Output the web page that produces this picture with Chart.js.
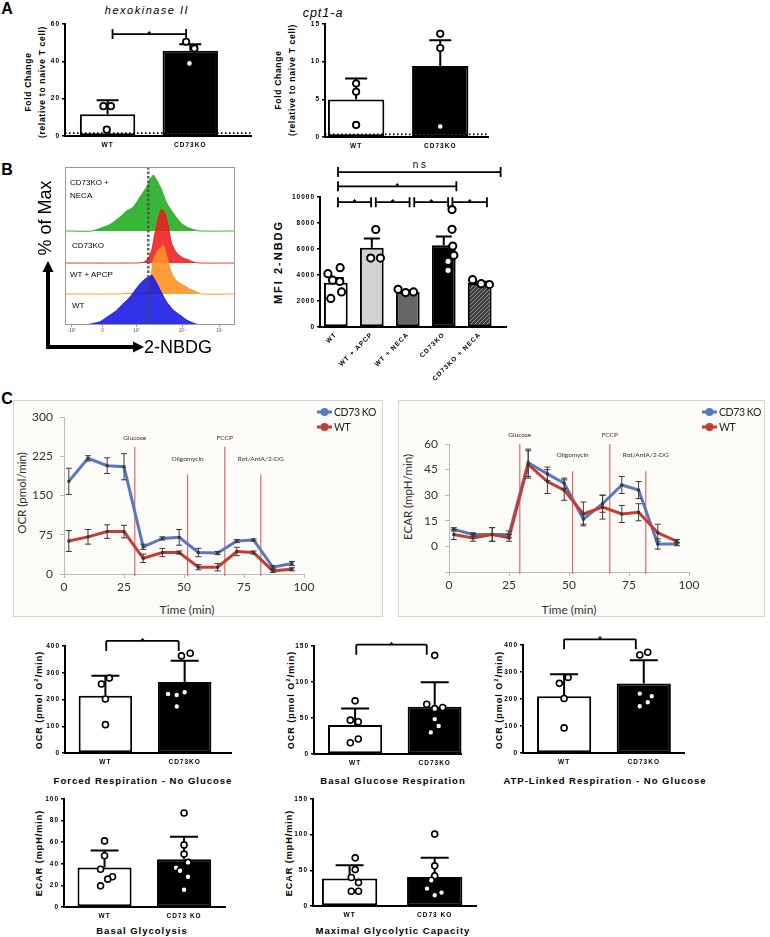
<!DOCTYPE html>
<html lang="en">
<head>
<meta charset="utf-8">
<title>CD73KO metabolism</title>
<script src="https://cdn.jsdelivr.net/npm/chart.js@4.4.1/dist/chart.umd.min.js"></script>
<style>
  html, body { margin: 0; padding: 0; background: #fff; }
  body { position: relative; width: 770px; height: 937px; overflow: hidden; font-family: 'Liberation Sans', Arial, sans-serif; }
  canvas { position: absolute; }
  .t { position: absolute; white-space: nowrap; color: #000; line-height: 1.15; text-align: center; }
  .box { position: absolute; background: #fdfbf7; border: 1px solid #d9d5cd; }
  sup { font-size: 65%; }
</style>
</head>
<body>
<div class="box" style="left:13px;top:400px;width:368px;height:215px"></div>
<div class="box" style="left:398px;top:400px;width:365px;height:215px"></div>
<script>
// 1. DADOS

// A - hexokinase II
const hk2Labels = ['WT', 'CD73KO'];
const hk2Mean = [11.6, 45.7];
const hk2Sd = [7.6, 3.4];
const hk2Pts = [[16, 16, 3.4], [50.5, 46.9, 38.9]];
const hk2Jit = [[-0.05, 0.04, -0.01], [-0.05, 0.05, -0.01]];
const hk2Sig = [[0.06, 0.95, 54.6, '*']];
const hk2Ref = 1.5;

// A - cpt1-a
const cptLabels = ['WT', 'CD73KO'];
const cptMean = [4.98, 9.43];
const cptSd = [2.8, 3.4];
const cptPts = [[7.1, 6.0, 1.6], [13.7, 11.8, 1.4]];
const cptJit = [[0, 0, 0], [0, 0, 0]];
const cptRef = 0.35;

// B - histogramas 2-NBDG
const histBase = [0, 31, 62, 94];
const histWtX = [0, 11.8, 16.2, 20.6, 23.5, 26.5, 29.5, 32.4, 35.3, 38.2, 42.2, 45.1, 48.0, 49.5, 51.0, 53.9, 56.9, 59.8, 63.7, 67.6, 71.6, 75.5, 79.4, 100];
const histWtH = [0, 0, 1.5, 3.3, 6.5, 10, 13.5, 18.3, 23, 28, 37, 43, 47, 48, 50, 42, 32, 23, 15, 10, 5, 2, 0, 0];
const histApcpX = [0, 30, 40, 48.0, 50.0, 52.0, 54.9, 56.5, 57.8, 59.8, 62.7, 65.7, 69.6, 73.5, 77.5, 80.4, 100];
const histApcpH = [0, 0, 0.8, 1.5, 11, 34, 44, 46, 49, 38, 21, 13, 9, 5, 2, 0, 0];
const histKoX = [0, 40, 46.1, 49.0, 51.0, 52.9, 54.9, 56.9, 58.8, 60.8, 62.7, 65.7, 69.6, 72.5, 75.5, 79.4, 100];
const histKoH = [0, 0, 0.7, 5, 13, 30, 45, 54, 50, 37, 20, 10, 5, 3.3, 1, 0, 0];
const histNecaX = [0, 15.7, 20.6, 26.5, 32.4, 36.3, 40.2, 44.1, 48.0, 50.0, 51.0, 52.0, 53.9, 56.9, 59.8, 63.7, 67.6, 71.6, 76.5, 79.4, 100];
const histNecaH = [0, 0, 2.7, 6.5, 14, 20, 24, 34, 44, 52, 54, 56, 51, 41, 28, 18, 9, 4, 1, 0, 0];
const histTickPos = [4, 22, 42, 69, 91];
const histTickLbl = ['-10³', '0', '10³', '10⁴', '10⁵'];
const histGate = 49;

// B - MFI 2-NBDG
const mfiLabels = ['WT', 'WT + APCP', 'WT + NECA', 'CD73KO', 'CD73KO + NECA'];
const mfiMean = [3400, 6100, 2700, 6280, 3380];
const mfiSem = [370, 700, 100, 690, 100];
const mfiPts = [[4100, 4560, 3600, 3500, 2700, 2200], [7500, 5300, 5300], [2900, 2650, 2700], [9030, 7510, 6230, 5510, 5050, 4360], [3640, 3330, 3260]];
const mfiJit = [[-0.22, 0.12, -0.09, 0.11, 0.16, -0.14], [0.11, -0.03, 0.24], [-0.27, -0.06, 0.16], [0.23, 0.23, 0.25, 0.28, 0.12, 0.12], [-0.2, 0.04, 0.27]];
const mfiSig = [[0.06, 0.98, 9600, '*'], [1.11, 2.05, 9600, '*'], [2.18, 3.12, 9600, '*'], [3.24, 4.2, 9600, '*'], [0.06, 3.35, 10820, '*'], [0.06, 4.58, 11920, 'n s']];

// C - Seahorse
const seaTime = [2, 10, 18, 25, 33, 41, 48, 56, 64, 72, 79, 87, 95];
const ocrKo = [177, 221, 207, 205, 52, 68, 70, 41, 40, 63, 65, 13, 20];
const ocrKoErr = [25, 5, 15, 25, 5, 3, 15, 8, 3, 3, 2, 3, 4];
const ocrWt = [63, 71, 81, 81, 30, 41, 41, 13, 13, 43, 41, 6, 9];
const ocrWtErr = [20, 14, 13, 12, 8, 8, 3, 5, 7, 8, 3, 3, 3];
const ecarKo = [10, 7, 7, 7, 49, 42.5, 37, 16, 25, 36, 33, 1.4, 1.4];
const ecarKoErr = [1, 1, 4, 2, 8, 4, 3, 3, 5, 5, 5, 3, 1];
const ecarWt = [7, 5, 7, 5, 48, 38, 33, 19, 23, 19, 20, 8, 3];
const ecarWtErr = [3, 2, 4, 2, 8, 7, 6, 7, 7, 5, 5, 5, 1];
const injNames = ['Glucose', 'Oligomycin', 'FCCP', 'Rot/AntA/2-DG'];
const injTime = [29.5, 51.5, 67, 82];
const ocrInjTop = [243, 190, 243, 190];
const ecarInjTop = [60, 44, 60, 44];

// C - respiração
const frLabels = ['WT', 'CD73KO'];
const frMean = [214, 265];
const frSd = [75, 80];
const frPts = [[280, 258, 202, 106], [363, 373, 221, 217, 227, 174]];
const frJit = [[0.05, -0.05, 0, 0], [-0.04, 0.07, -0.21, -0.1, 0, -0.1]];
const frSig = [[0.01, 0.925, 419, '*']];

const bgrMean = [40.2, 65.5];
const bgrSd = [23, 34];
const bgrPts = [[73.8, 47, 44.8, 20.8, 15.7], [137, 69, 63, 64.6, 48.5, 38.8, 30]];
const bgrJit = [[0, -0.06, 0.04, 0.04, -0.06], [0, -0.1, 0, 0.1, 0, 0.05, -0.05]];
const bgrSig = [[0.015, 0.9, 151.8, '*']];

const atpMean = [210.5, 257.6];
const atpSd = [81, 86];
const atpPts = [[280, 258, 202, 93], [363, 373, 220, 210, 188, 173]];
const atpJit = [[0.05, -0.06, 0, 0], [-0.05, 0.05, -0.05, 0.1, 0.05, -0.05]];
const atpSig = [[0, 0.9, 421, '*']];

// D - glicólise
const glyLabels = ['WT', 'CD73 KO'];
const glyMean = [36.6, 44.1];
const glySd = [15.6, 21];
const glyPts = [[61.2, 47.5, 35, 28, 25.8, 19.6], [87, 57.5, 49, 41.3, 36.3, 33.5, 28, 16]];
const glyJit = [[0, 0, -0.05, 0.1, 0.04, -0.05], [0, 0, 0, 0.05, -0.1, -0.05, 0.05, 0]];

const mgcMean = [38.4, 40.8];
const mgcSd = [18.8, 27];
const mgcPts = [[67.5, 51, 40, 32.8, 20.6, 20.6], [100.8, 56.3, 42.2, 36, 24.4, 18.8, 15]];
const mgcJit = [[0.066, 0.066, 0.02, 0.105, 0.02, 0.105], [0, 0, 0, -0.04, -0.09, 0.08, 0]];

// 2. FUNÇÕES AUXILIARES
const GP = "'Liberation Sans', Arial, sans-serif";
const XL = "Lato, 'Open Sans', sans-serif";
const KO_BLUE = 'rgb(88,120,194)';
const WT_RED = 'rgb(200,60,48)';
Chart.defaults.animation = false;
Chart.defaults.responsive = false;
Chart.defaults.plugins.legend.display = false;
Chart.defaults.plugins.tooltip.enabled = false;
Chart.defaults.font.family = GP;
Chart.defaults.color = '#000';

function txt(html, x, y, css, rot, left) {
    const d = document.createElement('div');
    d.className = 't';
    d.innerHTML = html;
    d.style.left = x + 'px';
    d.style.top = y + 'px';
    d.style.transform = (left ? 'translate(0,-50%)' : 'translate(-50%,-50%)') + (rot ? ' rotate(-90deg)' : '');
    d.style.cssText += css;
    document.body.appendChild(d);
}

function canvasAt(l, t, w, h) {
    const c = document.createElement('canvas');
    c.width = Math.round(w); c.height = Math.round(h);
    c.style.left = Math.round(l) + 'px'; c.style.top = Math.round(t) + 'px';
    c.style.width = Math.round(w) + 'px'; c.style.height = Math.round(h) + 'px';
    document.body.appendChild(c);
    return c;
}

function hatch() {
    const p = document.createElement('canvas');
    p.width = p.height = 4;
    const g = p.getContext('2d');
    g.fillStyle = '#3a3a3a'; g.fillRect(0, 0, 4, 4);
    g.strokeStyle = '#9a9a9a'; g.lineWidth = 1;
    g.beginPath(); g.moveTo(-1, 5); g.lineTo(5, -1); g.stroke();
    return g.createPattern(p, 'repeat');
}

// gráfico de barras estilo GraphPad (barra + pontos + DP + colchetes)
function barPlot(o) {
    const a = o.area, yw = o.yw || 24, xh = o.xh || 16, pt = o.pt || 10, pr = o.pr || 4;
    const cv = canvasAt(a.l - yw, a.t - pt, a.r - a.l + yw + pr, a.b - a.t + pt + xh);
    const dots = [];
    o.pts.forEach((arr, i) => arr.forEach((v, k) => dots.push({ x: i + o.jit[i][k], y: v })));
    new Chart(cv, {
        type: 'bar',
        data: { datasets: [
            { type: 'scatter', data: dots, order: 0, clip: false, pointRadius: o.r || 3,
              pointBorderWidth: o.rw || 1.6, pointBackgroundColor: '#fff', pointBorderColor: '#000' },
            { type: 'bar', data: o.mean.map((v, i) => ({ x: i, y: v })), order: 1,
              backgroundColor: o.fill, borderColor: '#000', borderWidth: 2, borderSkipped: false,
              barPercentage: o.bw, categoryPercentage: 1 }
        ]},
        options: {
            layout: { padding: { top: pt, right: pr, left: 0, bottom: 0 } },
            scales: {
                x: { type: 'linear', min: o.xmin, max: o.xmax, offset: false,
                     afterBuildTicks: s => { s.ticks = o.labels.map((_, i) => ({ value: i })); },
                     afterFit: s => { s.height = xh; },
                     grid: { display: true, drawOnChartArea: false, drawTicks: false, offset: false },
                     border: { color: '#000', width: 2 },
                     ticks: { autoSkip: false, callback: v => o.labels[v], minRotation: o.rot || 0, maxRotation: o.rot || 0,
                              padding: o.xpad || 5, font: { size: 6.5, weight: 'bold' }, color: '#000' } },
                y: { min: 0, max: o.ymax, afterFit: s => { s.width = yw; },
                     grid: { drawOnChartArea: false, tickLength: 3, color: '#000', lineWidth: 1.5 },
                     border: { color: '#000', width: 2 },
                     ticks: { stepSize: o.step, padding: 2, callback: v => String(v), font: { size: 6.5, weight: 'bold' }, color: '#000' } }
            }
        },
        plugins: [{
            id: 'gp',
            beforeDraw(c) { c.ctx.letterSpacing = '1px'; },
            beforeDatasetDraw(c, args) {
                if (args.index !== 0) return;
                const { ctx, scales: { x, y } } = c;
                ctx.save();
                ctx.strokeStyle = '#000'; ctx.lineWidth = 2;
                o.mean.forEach((m, i) => {
                    const px = x.getPixelForValue(i), y0 = y.getPixelForValue(m), y1 = y.getPixelForValue(m + o.sd[i]);
                    ctx.beginPath();
                    ctx.moveTo(px, y0); ctx.lineTo(px, y1);
                    ctx.moveTo(px - o.cap, y1); ctx.lineTo(px + o.cap, y1);
                    ctx.stroke();
                });
                ctx.restore();
            },
            afterDraw(c) {
                const { ctx, chartArea: ca, scales: { x, y } } = c;
                ctx.save();
                ctx.strokeStyle = '#000'; ctx.fillStyle = '#000'; ctx.lineWidth = 1.8;
                if (o.ref != null) {
                    ctx.setLineDash([1.5, 2.5]);
                    ctx.beginPath();
                    ctx.moveTo(ca.left, y.getPixelForValue(o.ref)); ctx.lineTo(ca.right, y.getPixelForValue(o.ref));
                    ctx.stroke();
                    ctx.setLineDash([]);
                }
                (o.sig || []).forEach(([p, q, v, s]) => {
                    const x1 = x.getPixelForValue(p), x2 = x.getPixelForValue(q), yy = y.getPixelForValue(v);
                    ctx.beginPath();
                    ctx.moveTo(x1, yy); ctx.lineTo(x2, yy);
                    if (o.sigStyle === 'down') {
                        ctx.moveTo(x1, yy); ctx.lineTo(x1, yy + 10);
                        ctx.moveTo(x2, yy); ctx.lineTo(x2, yy + 10);
                    } else {
                        ctx.moveTo(x1, yy - 5); ctx.lineTo(x1, yy + 5);
                        ctx.moveTo(x2, yy - 5); ctx.lineTo(x2, yy + 5);
                    }
                    ctx.stroke();
                    ctx.textAlign = 'center';
                    ctx.letterSpacing = '0px';
                    if (s === '*') {
                        ctx.font = 'bold 9px ' + GP; ctx.textBaseline = 'alphabetic';
                        ctx.fillText(s, (x1 + x2) / 2, yy + 3);
                    } else {
                        ctx.font = '10px ' + GP; ctx.textBaseline = 'bottom';
                        ctx.fillText(s, (x1 + x2) / 2, yy - 2);
                    }
                });
                ctx.restore();
            }
        }]
    });
}

// gráfico de linha Seahorse (OCR / ECAR)
function seaPlot(o) {
    const cv = canvasAt(o.l, o.t, o.w, o.h);
    const serie = (ys, color) => ({
        data: seaTime.map((t, i) => ({ x: t, y: ys[i] })),
        borderColor: color, borderWidth: 3, pointStyle: 'rect', pointRadius: 2,
        pointBackgroundColor: '#333', pointBorderWidth: 0, tension: 0
    });
    new Chart(cv, {
        type: 'line',
        data: { datasets: [serie(o.wt, WT_RED), serie(o.ko, KO_BLUE)] },
        options: {
            layout: { padding: { top: o.pt, right: o.pr, bottom: o.pb, left: 0 } },
            scales: {
                x: { type: 'linear', min: 0, max: 100, afterFit: s => { s.height = 20; },
                     ticks: { stepSize: 25, padding: 2, font: { family: XL, size: 12 }, color: '#333' },
                     grid: { drawOnChartArea: false, tickLength: 4, color: '#bbb' },
                     border: { color: '#bbb', width: 1 } },
                y: { min: o.ymin, max: o.ymax, afterFit: s => { s.width = o.yw; },
                     ticks: { stepSize: o.step, padding: 7, callback: v => v < 0 ? '' : v, font: { family: XL, size: 12 }, color: '#333' },
                     grid: { drawOnChartArea: false, tickLength: 4, color: '#bbb' },
                     border: { color: '#bbb', width: 1 } }
            }
        },
        plugins: [{
            id: 'sea',
            beforeDatasetsDraw(c) {
                const { ctx, chartArea: ca, scales: { x, y } } = c;
                ctx.save();
                ctx.strokeStyle = 'rgba(214,92,92,0.9)'; ctx.lineWidth = 1.2;
                ctx.fillStyle = '#333'; ctx.font = '6.5px ' + XL; ctx.textAlign = 'center';
                injTime.forEach((t, i) => {
                    const px = x.getPixelForValue(t), top = y.getPixelForValue(o.inj[i]);
                    ctx.beginPath(); ctx.moveTo(px, top); ctx.lineTo(px, ca.bottom + 2); ctx.stroke();
                    ctx.fillText(injNames[i], px, top - (i % 2 ? 14 : 7));
                });
                ctx.restore();
            },
            afterDatasetsDraw(c) {
                const { ctx, scales: { x, y } } = c;
                ctx.save();
                ctx.strokeStyle = '#3a3a3a'; ctx.lineWidth = 1;
                [[o.ko, o.koErr], [o.wt, o.wtErr]].forEach(([ys, es]) => {
                    seaTime.forEach((t, i) => {
                        const px = x.getPixelForValue(t), y1 = y.getPixelForValue(ys[i] + es[i]), y2 = y.getPixelForValue(ys[i] - es[i]);
                        ctx.beginPath();
                        ctx.moveTo(px, y1); ctx.lineTo(px, y2);
                        ctx.moveTo(px - 3, y1); ctx.lineTo(px + 3, y1);
                        ctx.moveTo(px - 3, y2); ctx.lineTo(px + 3, y2);
                        ctx.stroke();
                    });
                });
                ctx.restore();
            },
            afterDraw(c) {
                const ctx = c.ctx;
                ctx.save();
                ctx.font = '10.5px ' + XL; ctx.textBaseline = 'middle';
                ctx.letterSpacing = '-0.4px';
                [['CD73 KO', KO_BLUE, 12], ['WT', WT_RED, 27]].forEach(([name, col, ly]) => {
                    ctx.strokeStyle = col; ctx.fillStyle = col; ctx.lineWidth = 3;
                    ctx.beginPath(); ctx.moveTo(304, ly); ctx.lineTo(319, ly); ctx.stroke();
                    ctx.beginPath(); ctx.arc(311.5, ly, 4, 0, Math.PI * 2); ctx.fill();
                    ctx.fillStyle = '#222';
                    ctx.fillText(name, 321, ly + 0.5);
                });
                ctx.restore();
            }
        }]
    });
}

// 3. PAINEL A
const B16 = 'font-weight:bold;font-size:16px;';
txt('A', 7, 9, B16);
txt('B', 7, 170, B16);
txt('C', 7, 399, B16);

const YT = 'font-weight:bold;font-size:8.5px;letter-spacing:0.7px;line-height:14px;';
txt('hexokinase II', 147, 10, 'font-style:italic;font-size:11px;letter-spacing:1.5px;');
txt('cpt1-a', 323, 13, 'font-style:italic;font-size:12.5px;letter-spacing:1px;');
txt('Fold Change<br>(relative to naive T cell)', 35, 82, YT, true);
txt('Fold Change<br>(relative to naive T cell)', 285, 80, YT, true);

barPlot({ area: { l: 65, r: 253, t: 24, b: 136 }, xmin: -0.515, xmax: 1.737, bw: 0.67, ymax: 60, step: 20,
          labels: hk2Labels, mean: hk2Mean, sd: hk2Sd, pts: hk2Pts, jit: hk2Jit, sig: hk2Sig, ref: hk2Ref,
          fill: ['#fff', '#000'], cap: 11, r: 3.2, rw: 1.8 });
barPlot({ area: { l: 325, r: 490, t: 24, b: 137 }, xmin: -0.37, xmax: 1.57, bw: 0.67, ymax: 15, step: 5,
          labels: cptLabels, mean: cptMean, sd: cptSd, pts: cptPts, jit: cptJit, ref: cptRef,
          fill: ['#fff', '#000'], cap: 11, r: 3.2, rw: 1.8 });

// 4. PAINEL B - histogramas
(function () {
    const cv = canvasAt(30, 160, 215, 200);
    const curva = (xs, hs, base, cor) => ({
        data: xs.map((x, i) => ({ x: x, y: base + hs[i] })),
        fill: { value: base }, backgroundColor: cor, borderColor: cor, borderWidth: 1,
        pointRadius: 0, tension: 0.25
    });
    new Chart(cv, {
        type: 'line',
        data: { datasets: [
            curva(histWtX, histWtH, histBase[0], 'rgba(28,28,228,0.9)'),
            curva(histApcpX, histApcpH, histBase[1], 'rgba(255,146,36,0.9)'),
            curva(histKoX, histKoH, histBase[2], 'rgba(238,28,28,0.88)'),
            curva(histNecaX, histNecaH, histBase[3], 'rgba(40,176,40,0.92)')
        ]},
        options: {
            layout: { padding: { left: 35, top: 7, right: 10, bottom: 23 } },
            scales: {
                x: { type: 'linear', min: 0, max: 100,
                     afterBuildTicks: s => { s.ticks = histTickPos.map(v => ({ value: v })); },
                     afterFit: s => { s.height = 12; },
                     ticks: { callback: (v, i) => histTickLbl[i], font: { size: 4.5 }, color: '#555', padding: 1, autoSkip: false, maxRotation: 0 },
                     grid: { drawOnChartArea: false, tickLength: 2, color: '#999' },
                     border: { display: false } },
                y: { display: false, min: 0, max: 158 }
            }
        },
        plugins: [{
            id: 'facs',
            afterDatasetsDraw(c) {
                const { ctx, chartArea: ca, scales: { x } } = c;
                ctx.save();
                const gx = x.getPixelForValue(histGate);
                ctx.strokeStyle = 'rgba(70,70,70,0.85)'; ctx.lineWidth = 2.5; ctx.setLineDash([2.5, 2]);
                ctx.beginPath(); ctx.moveTo(gx, ca.top); ctx.lineTo(gx, ca.bottom); ctx.stroke();
                ctx.setLineDash([]);
                ctx.strokeStyle = '#9a9a9a'; ctx.lineWidth = 1;
                ctx.strokeRect(ca.left + 0.5, ca.top + 0.5, ca.width - 1, ca.height - 1);
                ctx.restore();
            },
            afterDraw(c) {
                const ctx = c.ctx;
                ctx.save();
                ctx.strokeStyle = '#000'; ctx.fillStyle = '#000'; ctx.lineWidth = 4;
                ctx.beginPath(); ctx.moveTo(18, 189); ctx.lineTo(18, 110); ctx.moveTo(16, 187); ctx.lineTo(104, 187); ctx.stroke();
                ctx.beginPath(); ctx.moveTo(18, 101); ctx.lineTo(12.5, 112); ctx.lineTo(23.5, 112); ctx.closePath(); ctx.fill();
                ctx.beginPath(); ctx.moveTo(114, 187); ctx.lineTo(103, 181.5); ctx.lineTo(103, 192.5); ctx.closePath(); ctx.fill();
                ctx.restore();
            }
        }]
    });
})();
const HL = 'font-size:8px;line-height:13px;text-align:left;';
txt('CD73KO +<br>NECA', 70, 189, HL, false, true);
txt('CD73KO', 72, 245, HL, false, true);
txt('WT + APCP', 70, 274, HL, false, true);
txt('WT', 72, 305, HL, false, true);
txt('% of Max', 45, 218, 'font-size:18px;', true);
txt('2-NBDG', 144, 347, 'font-size:18px;', false, true);

// 5. PAINEL B - MFI
txt('MFI 2-NBDG', 278, 262, 'font-weight:bold;font-size:11px;letter-spacing:2px;', true);
barPlot({ area: { l: 320, r: 508, t: 197, b: 327 }, xmin: -0.44, xmax: 4.73, bw: 0.66, ymax: 10000, step: 2000,
          labels: mfiLabels, mean: mfiMean, sd: mfiSem, pts: mfiPts, jit: mfiJit, sig: mfiSig,
          fill: ['#fff', '#d2d2d2', '#666', '#000', hatch()], cap: 8, r: 3.6, rw: 2,
          yw: 30, xh: 72, pt: 40, rot: 45, xpad: 4 });

// 6. PAINEL C - Seahorse
txt('OCR (pmol/min)', 22, 493, 'font-family:' + XL + ';font-size:11.5px;color:#333;', true);
txt('ECAR (mpH/min)', 408, 497, 'font-family:' + XL + ';font-size:11.5px;color:#333;', true);
txt('Time (min)', 187, 610, 'font-family:' + XL + ';font-size:12px;color:#333;');
txt('Time (min)', 569, 610, 'font-family:' + XL + ';font-size:12px;color:#333;');
seaPlot({ l: 13, t: 400, w: 370, h: 217, yw: 51, pt: 17, pr: 79, pb: 23, ymin: 0, ymax: 300, step: 75,
          ko: ocrKo, koErr: ocrKoErr, wt: ocrWt, wtErr: ocrWtErr, inj: ocrInjTop });
seaPlot({ l: 398, t: 400, w: 367, h: 217, yw: 51, pt: 44, pr: 76, pb: 25, ymin: -15, ymax: 60, step: 15,
          ko: ecarKo, koErr: ecarKoErr, wt: ecarWt, wtErr: ecarWtErr, inj: ecarInjTop });

// 7. RESPIRAÇÃO E GLICÓLISE
const YT2 = 'font-weight:bold;font-size:9px;letter-spacing:1px;';
const TT = 'font-weight:bold;font-size:9.5px;letter-spacing:1px;';
txt('OCR (pmol O<sup>2</sup>/min)', 39, 700, YT2, true);
txt('OCR (pmol O<sup>2</sup>/min)', 291, 700, YT2, true);
txt('OCR (pmol O<sup>2</sup>/min)', 499, 700, YT2, true);
txt('ECAR (mpH/min)', 39, 853, YT2, true);
txt('ECAR (mpH/min)', 289, 853, YT2, true);
txt('Forced Respiration - No Glucose', 143, 781, TT);
txt('Basal Glucose Respiration', 393, 781, TT);
txt('ATP-Linked Respiration - No Glucose', 605, 781, TT);
txt('Basal Glycolysis', 142, 931, TT);
txt('Maximal Glycolytic Capacity', 393, 931, TT);

const duas = ['#fff', '#000'];
barPlot({ area: { l: 65, r: 233, t: 646, b: 753 }, xmin: -0.51, xmax: 1.59, bw: 0.675, ymax: 400, step: 100,
          labels: frLabels, mean: frMean, sd: frSd, pts: frPts, jit: frJit, sig: frSig, sigStyle: 'down',
          fill: duas, cap: 14, pt: 14 });
barPlot({ area: { l: 314, r: 463, t: 646, b: 754 }, xmin: -0.516, xmax: 1.335, bw: 0.68, ymax: 150, step: 50,
          labels: frLabels, mean: bgrMean, sd: bgrSd, pts: bgrPts, jit: bgrJit, sig: bgrSig, sigStyle: 'down',
          fill: duas, cap: 14, pt: 14 });
barPlot({ area: { l: 523, r: 686, t: 645, b: 753 }, xmin: -0.516, xmax: 1.51, bw: 0.68, ymax: 400, step: 100,
          labels: frLabels, mean: atpMean, sd: atpSd, pts: atpPts, jit: atpJit, sig: atpSig, sigStyle: 'down',
          fill: duas, cap: 14, pt: 14 });
barPlot({ area: { l: 64, r: 227, t: 799, b: 907 }, xmin: -0.51, xmax: 1.52, bw: 0.68, ymax: 100, step: 20,
          labels: glyLabels, mean: glyMean, sd: glySd, pts: glyPts, jit: glyJit,
          fill: duas, cap: 14 });
barPlot({ area: { l: 313, r: 478, t: 799, b: 906 }, xmin: -0.43, xmax: 1.49, bw: 0.65, ymax: 150, step: 50,
          labels: glyLabels, mean: mgcMean, sd: mgcSd, pts: mgcPts, jit: mgcJit,
          fill: duas, cap: 14 });
</script>
</body>
</html>
